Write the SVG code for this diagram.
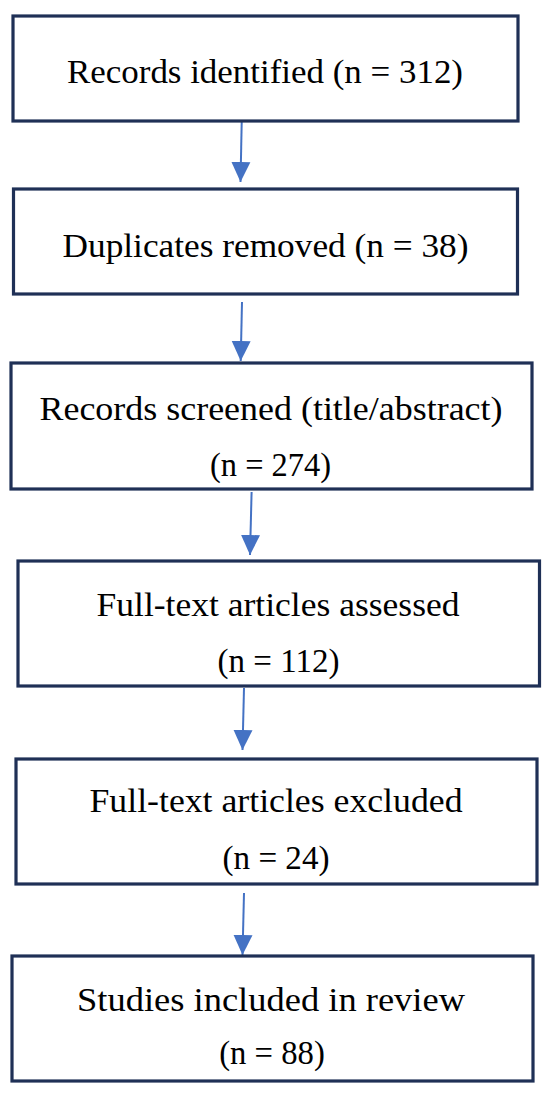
<svg xmlns="http://www.w3.org/2000/svg" width="550" height="1093" viewBox="0 0 550 1093">
<style>
.box{fill:#ffffff;stroke:#1f3056;stroke-width:3.2}
.t{font-family:"Liberation Serif","Times New Roman",serif;font-size:33px;fill:#000;text-anchor:middle}
.c{stroke:#4472c4;stroke-width:2;fill:none;marker-end:url(#ah)}
</style>
<defs>
<marker id="ah" viewBox="0 0 20 20" refX="20" refY="10" markerWidth="20" markerHeight="20" markerUnits="userSpaceOnUse" orient="auto">
<path d="M0,0.5 L20,10 L0,19.5 z" fill="#4472c4"/>
</marker>
</defs>
<rect width="550" height="1093" fill="#ffffff"/>
<g id="connectors">
<line class="c" x1="241.7" y1="122" x2="240.5" y2="182"/>
<line class="c" x1="242" y1="302" x2="240.7" y2="361"/>
<line class="c" x1="251.6" y1="492" x2="250" y2="555"/>
<line class="c" x1="244" y1="688" x2="242.5" y2="750"/>
<line class="c" x1="244" y1="893" x2="242.5" y2="955"/>
</g>
<g id="n1">
<rect class="box" x="13" y="16" width="505" height="105"/>
<text class="t" x="265" y="83" textLength="396" lengthAdjust="spacingAndGlyphs">Records identified (n = 312)</text>
</g>
<g id="n2">
<rect class="box" x="13.5" y="189" width="504" height="105"/>
<text class="t" x="265.5" y="257" textLength="406" lengthAdjust="spacingAndGlyphs">Duplicates removed (n = 38)</text>
</g>
<g id="n3">
<rect class="box" x="11" y="363" width="521" height="126"/>
<text class="t" x="271" y="420" textLength="463" lengthAdjust="spacingAndGlyphs">Records screened (title/abstract)</text>
<text class="t" x="270.5" y="476" textLength="121" lengthAdjust="spacingAndGlyphs">(n = 274)</text>
</g>
<g id="n4">
<rect class="box" x="18" y="561" width="521.5" height="125"/>
<text class="t" x="278" y="616" textLength="363" lengthAdjust="spacingAndGlyphs">Full-text articles assessed</text>
<text class="t" x="278.5" y="672" textLength="122" lengthAdjust="spacingAndGlyphs">(n = 112)</text>
</g>
<g id="n5">
<rect class="box" x="16" y="759" width="521" height="125"/>
<text class="t" x="276" y="812" textLength="373" lengthAdjust="spacingAndGlyphs">Full-text articles excluded</text>
<text class="t" x="276" y="869" textLength="107" lengthAdjust="spacingAndGlyphs">(n = 24)</text>
</g>
<g id="n6">
<rect class="box" x="12" y="956" width="521" height="125"/>
<text class="t" x="271" y="1011" textLength="388" lengthAdjust="spacingAndGlyphs">Studies included in review</text>
<text class="t" x="272" y="1064" textLength="105.6" lengthAdjust="spacingAndGlyphs">(n = 88)</text>
</g>
</svg>
